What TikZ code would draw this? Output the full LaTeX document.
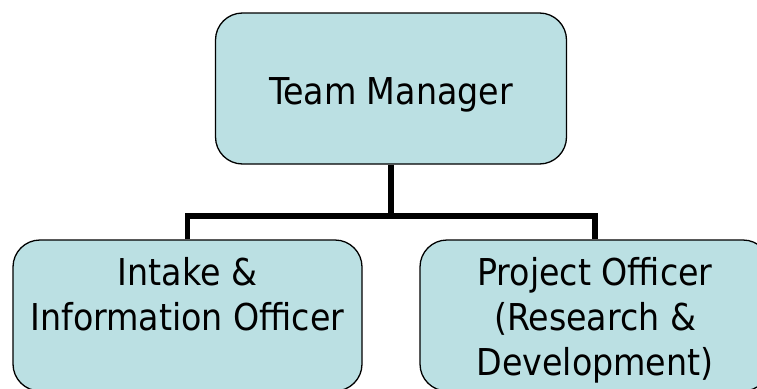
\documentclass[tikz,border=0pt]{standalone}
\usepackage{fontspec}
\setmainfont{DejaVu Sans Condensed}
\begin{document}
\begin{tikzpicture}[x=1pt,y=1pt,
  box/.style={draw=black,line width=1.3pt,fill=boxfill,rounded corners=27pt,inner sep=0pt},
  conn/.style={draw=black,line width=5.5pt,line join=miter},
  lbl/.style={font=\fontsize{37}{45}\selectfont,align=center,inner sep=0pt,anchor=base}]
\definecolor{boxfill}{HTML}{BBE0E3}
\useasboundingbox (0,0) rectangle (757,-388);
\node[box,minimum width=351pt,minimum height=151pt] (top) at (391,-88.5) {};
\node[box,minimum width=349pt,minimum height=151pt] (left) at (187.5,-315.5) {};
\node[box,minimum width=350pt,minimum height=151pt] (right) at (595,-315.5) {};
\coordinate (j) at (391,-216);
\draw[conn] (top.south) -- (j);
\draw[conn] (left.north) |- (j) -| (right.north);
\node[lbl] (toptxt) at (391,-104) {Team Manager};
\node[lbl] (lefttxt) at (187.5,-330) {Intake \&\\Information Officer};
\node[lbl] (righttxt) at (595,-375) {Project Officer\\(Research \&\\Development)};
\end{tikzpicture}
\end{document}
